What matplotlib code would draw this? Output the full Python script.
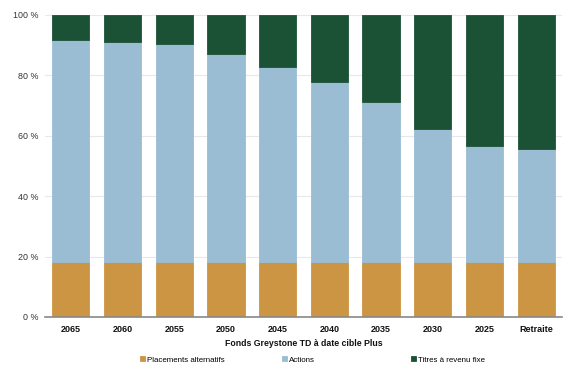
import matplotlib
matplotlib.use("Agg")
import matplotlib.pyplot as plt
import numpy as np

plt.rcParams['font.family'] = ['Liberation Sans', 'DejaVu Sans']

categories = ['2065', '2060', '2055', '2050', '2045', '2040', '2035', '2030', '2025', 'Retraite']
alternatifs = [18.2, 18.2, 18.2, 18.2, 18.2, 18.2, 18.2, 18.2, 18.2, 18.2]
actions = [73.5, 72.9, 72.1, 68.8, 64.5, 59.6, 53.0, 43.9, 38.5, 37.5]
revenu_fixe = [100 - a - b for a, b in zip(alternatifs, actions)]

series = ['Placements alternatifs', 'Actions', 'Titres à revenu fixe']
colors = ['#CC9544', '#9ABDD4', '#1B5236']
legend_x = [140, 282, 411]

fig = plt.figure(figsize=(5.72, 3.70), dpi=100)
ax = fig.add_axes([45/572, 53/370, 517/572, 302/370])

x = np.arange(len(categories))
bottom = np.zeros(len(categories))
handles = []
for vals, col, name in zip([alternatifs, actions, revenu_fixe], colors, series):
    b = ax.bar(x, vals, 0.72, bottom=bottom, color=col, label=name,
               edgecolor=col, linewidth=0.6, zorder=3)
    handles.append(b)
    bottom += np.array(vals)

ax.set_xlim(-0.5, len(categories) - 0.5)
ax.set_ylim(0, 100)
ax.set_yticks([0, 20, 40, 60, 80, 100])
ax.set_yticklabels([f'{v} %' for v in [0, 20, 40, 60, 80, 100]], fontsize=6.4, color='#333333')
ax.set_xticks(x)
ax.set_xticklabels(categories, fontsize=6.5, fontweight='bold', color='#111111')
ax.tick_params(axis='x', length=0, pad=6)
ax.tick_params(axis='y', length=0, pad=5)
ax.grid(axis='y', color='#E8E8E8', linewidth=0.8, zorder=0)
for s in ['top', 'right', 'left']:
    ax.spines[s].set_visible(False)
ax.spines['bottom'].set_color('#888888')
ax.spines['bottom'].set_linewidth(1.2)
ax.spines['bottom'].set_zorder(4)

ax.set_xlabel('Fonds Greystone TD à date cible Plus', fontsize=6.3, fontweight='bold',
              color='#111111', labelpad=3)

for h, name, lx in zip(handles, series, legend_x):
    fig.legend([h], [name], loc='center left', bbox_to_anchor=(lx/572, 1 - 360/370),
               frameon=False, fontsize=5.7, handlelength=0.6, handleheight=0.6,
               handletextpad=0.3, borderpad=0, borderaxespad=0)

fig.savefig('out.png', dpi=100, facecolor='white')
